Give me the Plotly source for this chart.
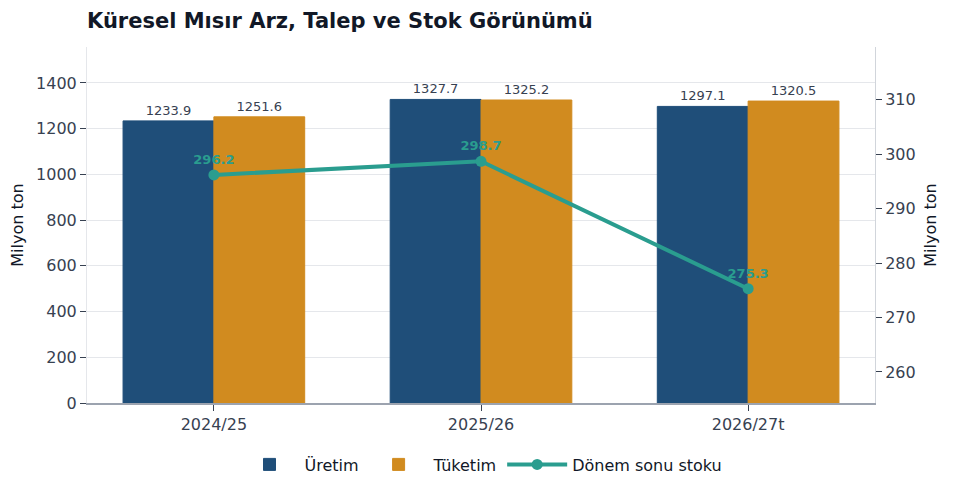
import plotly.graph_objects as go

# Veriler
seasons = ["2024/25", "2025/26", "2026/27t"]
production = [1233.9, 1327.7, 1297.1]
consumption = [1251.6, 1325.2, 1320.5]
ending_stocks = [296.2, 298.7, 275.3]

blue = "#1f4e79"
orange = "#d18b1f"
teal = "#2a9d8f"
text_gray = "#374151"

fig = go.Figure()

fig.add_trace(go.Bar(
    x=seasons, y=production, name="Üretim",
    marker=dict(color=blue, line=dict(color=blue, width=1)),
    text=[f"{v:.1f}" for v in production], textposition="outside",
    textfont=dict(size=13, color=text_gray), cliponaxis=False,
))
fig.add_trace(go.Bar(
    x=seasons, y=consumption, name="Tüketim",
    marker=dict(color=orange, line=dict(color=orange, width=1)),
    text=[f"{v:.1f}" for v in consumption], textposition="outside",
    textfont=dict(size=13, color=text_gray), cliponaxis=False,
))
fig.add_trace(go.Scatter(
    x=seasons, y=ending_stocks, name="Dönem sonu stoku", yaxis="y2",
    mode="lines+markers+text",
    line=dict(color=teal, width=4), marker=dict(size=11, color=teal),
    text=[f"{v:.1f}" for v in ending_stocks], textposition="top center",
    textfont=dict(size=13, color=teal, family="DejaVu Sans, sans-serif", weight="bold"),
))

# sayfa gövdesinin 8px kenar boşluğu için kaydırılmış kenar boşlukları
fig.update_layout(
    width=953, height=495,
    template="plotly_white",
    font=dict(family="DejaVu Sans, sans-serif", size=16, color=text_gray),
    title=dict(text="<b>Küresel Mısır Arz, Talep ve Stok Görünümü</b>",
               xref="paper", x=0, xanchor="left",
               yref="container", y=0.974, yanchor="middle",
               font=dict(size=21, color="#111827")),
    margin=dict(l=79, r=86, t=39, b=100),
    barmode="group", bargap=0.32, bargroupgap=0,
    showlegend=True,
    legend=dict(orientation="h", x=0.5, xanchor="center", y=-0.125, yanchor="top",
                font=dict(size=16, color="#111827"), itemwidth=60),
    xaxis=dict(showgrid=False, showline=True, linecolor="#9ca3af", linewidth=1.5,
               range=[-0.475, 2.475],
               ticks="outside", tickcolor=text_gray, ticklen=6, automargin=False),
    yaxis=dict(title=dict(text="Milyon ton", font=dict(size=16, color="#111827"), standoff=10),
               range=[0, 1557], dtick=200, gridcolor="#e5e7eb",
               showline=True, linecolor="#e5e7eb", ticks="outside",
               tickcolor=text_gray, ticklen=6, zeroline=False, automargin=False),
    yaxis2=dict(title=dict(text="Milyon ton", font=dict(size=16, color="#111827"), standoff=10),
                overlaying="y", side="right", range=[254.3, 319.7], dtick=10,
                showgrid=False, showline=True, linecolor="#d1d5db",
                ticks="outside", tickcolor=text_gray, ticklen=6, zeroline=False,
                automargin=False),
)

fig.write_html("out.html")
